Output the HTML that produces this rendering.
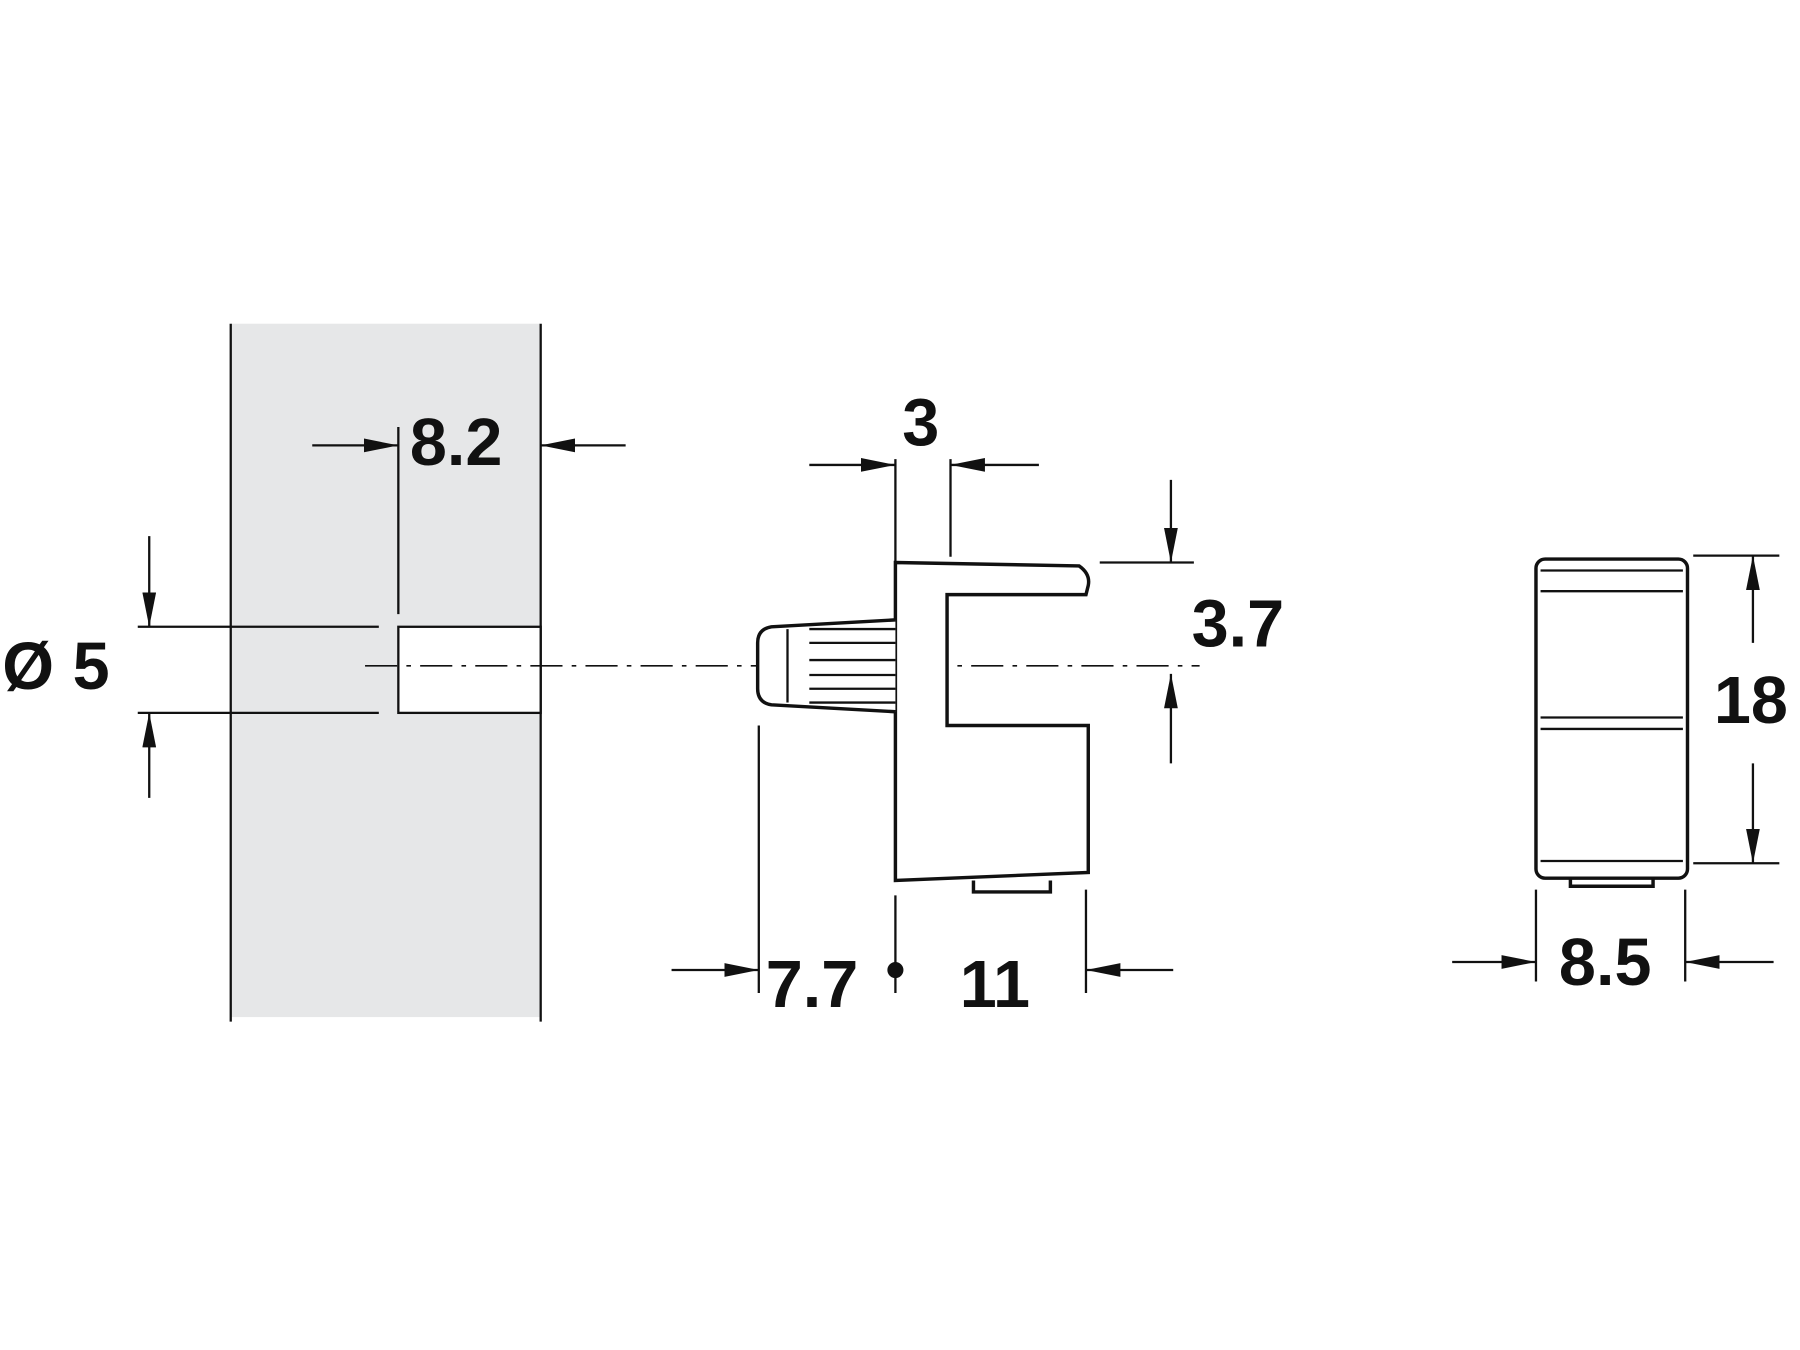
<!DOCTYPE html>
<html><head><meta charset="utf-8"><style>html,body{margin:0;padding:0;background:#fff}svg{display:block}text{font-family:"Liberation Sans",sans-serif;font-weight:bold;font-size:58px;fill:#111}</style></head>
<body>
<svg width="1800" height="1350" viewBox="0 0 1568 1176" xmlns="http://www.w3.org/2000/svg">
<defs>
<marker id="a" markerWidth="30" markerHeight="12" refX="30" refY="6" orient="auto" markerUnits="userSpaceOnUse"><path d="M0,0 L30,6 L0,12 Z" fill="#111"/></marker>
</defs>
<g stroke="#111" stroke-width="2" fill="none">
<rect x="201" y="282" width="270" height="604" fill="#e6e7e8" stroke="none"/>
<line x1="201" y1="282" x2="201" y2="890"/>
<line x1="471" y1="282" x2="471" y2="890"/>
<rect x="347" y="546" width="124" height="75" fill="#fff"/>
<line x1="120" y1="546" x2="330" y2="546"/>
<line x1="120" y1="621" x2="330" y2="621"/>
<line x1="130" y1="467" x2="130" y2="546" marker-end="url(#a)"/>
<line x1="130" y1="695" x2="130" y2="621" marker-end="url(#a)"/>
<line x1="347" y1="372" x2="347" y2="535"/>
<line x1="272" y1="388" x2="347" y2="388" marker-end="url(#a)"/>
<line x1="545" y1="388" x2="471" y2="388" marker-end="url(#a)"/>
<line x1="318" y1="580" x2="1045" y2="580" stroke-dasharray="28,8,4,8" stroke-width="1.5"/>
<path d="M780,490 L940,493 Q950,500 948,510 L946,518 L825,518 L825,632 L948,632 L948,760 L780,767 Z" stroke-width="3" fill="#fff"/>
<path d="M848,767 L848,777 L915,777 L915,767" stroke-width="3"/>
<path d="M780,540 L672,546 Q660,548 660,560 L660,600 Q660,612 672,614 L780,620" stroke-width="3" fill="#fff"/>
<line x1="705" y1="548" x2="780" y2="548"/>
<line x1="705" y1="560" x2="780" y2="560"/>
<line x1="705" y1="575" x2="780" y2="575"/>
<line x1="705" y1="588" x2="780" y2="588"/>
<line x1="705" y1="600" x2="780" y2="600"/>
<line x1="705" y1="612" x2="780" y2="612"/>
<line x1="686" y1="548" x2="686" y2="612"/>
<line x1="780" y1="400" x2="780" y2="490"/>
<line x1="828" y1="400" x2="828" y2="485"/>
<line x1="705" y1="405" x2="780" y2="405" marker-end="url(#a)"/>
<line x1="905" y1="405" x2="828" y2="405" marker-end="url(#a)"/>
<line x1="958" y1="490" x2="1040" y2="490"/>
<line x1="1020" y1="418" x2="1020" y2="490" marker-end="url(#a)"/>
<line x1="1020" y1="665" x2="1020" y2="587" marker-end="url(#a)"/>
<line x1="661" y1="632" x2="661" y2="865"/>
<line x1="780" y1="780" x2="780" y2="865"/>
<line x1="946" y1="775" x2="946" y2="865"/>
<line x1="585" y1="845" x2="661" y2="845" marker-end="url(#a)"/>
<line x1="1022" y1="845" x2="946" y2="845" marker-end="url(#a)"/>
<rect x="1338" y="487" width="132" height="278" rx="8" stroke-width="3" fill="#fff"/>
<line x1="1342" y1="497" x2="1466" y2="497"/>
<line x1="1342" y1="515" x2="1466" y2="515"/>
<line x1="1342" y1="625" x2="1466" y2="625"/>
<line x1="1342" y1="635" x2="1466" y2="635"/>
<line x1="1342" y1="750" x2="1466" y2="750"/>
<path d="M1368,765 L1368,772 L1440,772 L1440,765" stroke-width="3"/>
<line x1="1475" y1="484" x2="1550" y2="484"/>
<line x1="1475" y1="752" x2="1550" y2="752"/>
<line x1="1527" y1="560" x2="1527" y2="484" marker-end="url(#a)"/>
<line x1="1527" y1="665" x2="1527" y2="752" marker-end="url(#a)"/>
<line x1="1338" y1="775" x2="1338" y2="855"/>
<line x1="1468" y1="775" x2="1468" y2="855"/>
<line x1="1265" y1="838" x2="1338" y2="838" marker-end="url(#a)"/>
<line x1="1545" y1="838" x2="1468" y2="838" marker-end="url(#a)"/>
</g>
<circle cx="780" cy="845" r="7" fill="#111"/>
<text x="2" y="600">Ø 5</text>
<text x="357" y="405">8.2</text>
<text x="786" y="388">3</text>
<text x="1038" y="563">3.7</text>
<text x="667" y="877">7.7</text>
<text x="836" y="877">11</text>
<text x="1493" y="630">18</text>
<text x="1358" y="858">8.5</text>
</svg>
</body></html>
